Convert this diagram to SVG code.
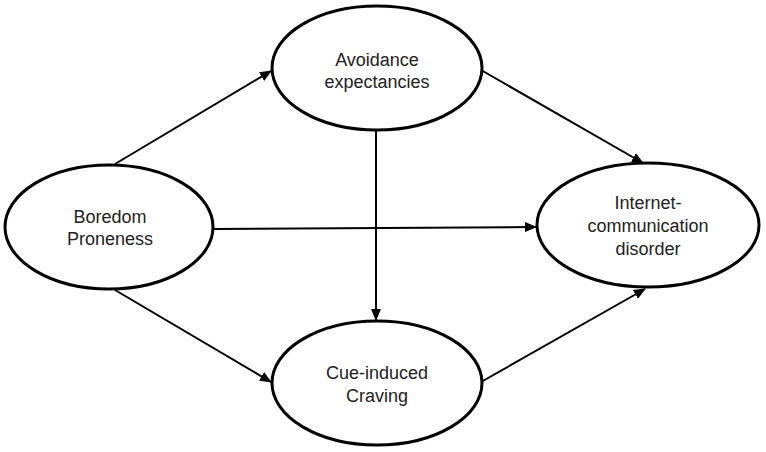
<svg xmlns="http://www.w3.org/2000/svg" width="766" height="452" viewBox="0 0 766 452">
<style>
.node ellipse{fill:#fff;stroke:#000;stroke-width:3}
.node text{font-family:"Liberation Sans",Arial,sans-serif;font-size:18px;fill:#222;text-anchor:middle}
.edge{stroke:#000;stroke-width:2;fill:none;marker-end:url(#ah)}
</style>
<defs>
<marker id="ah" markerWidth="12" markerHeight="10" refX="11" refY="5" orient="auto" markerUnits="userSpaceOnUse">
<path d="M0,0 L12,5 L0,10 Z" fill="#000"/>
</marker>
</defs>
<rect width="766" height="452" fill="#fff"/>
<g id="connectors">
<line class="edge" x1="115" y1="164" x2="271" y2="71"/>
<line class="edge" x1="481" y1="70" x2="643" y2="163"/>
<line class="edge" x1="376" y1="131" x2="376" y2="320"/>
<line class="edge" x1="214" y1="229" x2="536" y2="227"/>
<line class="edge" x1="115" y1="290" x2="271" y2="382"/>
<line class="edge" x1="481" y1="382" x2="645" y2="289"/>
</g>
<g id="boredom" class="node">
<ellipse cx="109" cy="227" rx="104" ry="62"/>
<text x="110" y="223">Boredom</text>
<text x="110" y="245">Proneness</text>
</g>
<g id="avoidance" class="node">
<ellipse cx="377" cy="68" rx="105" ry="62"/>
<text x="377" y="66">Avoidance</text>
<text x="377" y="88">expectancies</text>
</g>
<g id="craving" class="node">
<ellipse cx="377" cy="383" rx="105" ry="62"/>
<text x="377" y="379">Cue-induced</text>
<text x="377" y="402">Craving</text>
</g>
<g id="icd" class="node">
<ellipse cx="648" cy="225" rx="111" ry="62"/>
<text x="648" y="209">Internet-</text>
<text x="648" y="232">communication</text>
<text x="648" y="255">disorder</text>
</g>
</svg>
